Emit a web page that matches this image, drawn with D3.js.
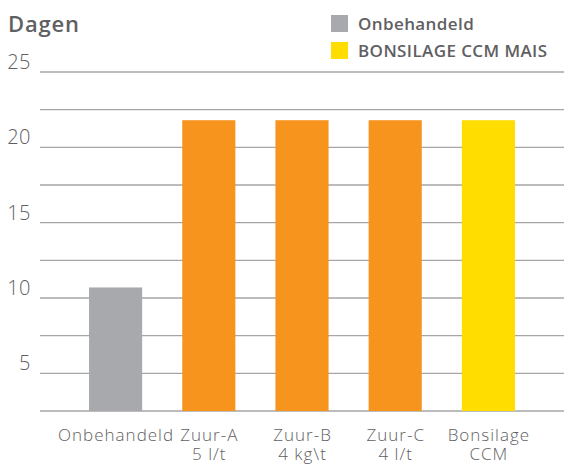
<!DOCTYPE html>
<html>
<head>
<meta charset="utf-8">
<script src="https://cdn.jsdelivr.net/npm/d3@7"></script>
<style>
  body { margin: 0; background: #fff; }
  text { font-family: "Open Sans", "Noto Sans", sans-serif; fill: #5f6062; }
</style>
</head>
<body>
<div id="chart"></div>
<script>
var categories = ["Onbehandeld", "Zuur-A|5 l/t", "Zuur-B|4 kg\\t", "Zuur-C|4 l/t", "Bonsilage|CCM"];
var values = [10.7, 21.8, 21.8, 21.8, 21.8];
var barColors = ["#a7a9ac", "#f7941d", "#f7941d", "#f7941d", "#ffdd00"];
var gridTicks = [2.5, 5, 7.5, 10, 12.5, 15, 17.5, 20, 22.5, 25];
var labelTicks = [5, 10, 15, 20, 25];
var legendItems = ["Onbehandeld", "BONSILAGE CCM MAIS"];
var legendColors = ["#a7a9ac", "#ffdd00"];

var width = 564, height = 464;

var svg = d3.select("#chart")
    .append("svg")
    .attr("width", width)
    .attr("height", height);

var y = d3.scaleLinear()
    .domain([2.5, 25])
    .range([411, 72]);

var x = d3.scaleBand()
    .domain(categories)
    .range([69, 535])
    .paddingInner(0.43)
    .paddingOuter(0.215);

// gridlines
svg.selectAll("line.grid")
    .data(gridTicks)
    .enter()
    .append("line")
    .attr("class", "grid")
    .attr("x1", 40)
    .attr("x2", width)
    .attr("y1", function(d){return y(d)})
    .attr("y2", function(d){return y(d)})
    .attr("stroke", "#a6a6a6")
    .attr("stroke-width", 1.3)

svg.selectAll("text.ylab")
    .data(labelTicks)
    .enter()
    .append("text")
    .attr("class", "ylab")
    .attr("x", 31)
    .attr("y", function(d){return y(d) - 3})
    .attr("text-anchor", "end")
    .style("font-size", "20px")
    .style("font-weight", 300)
    .style("letter-spacing", "0.5px")
    .text(function(d){return d})

// bars
svg.selectAll("rect.bar")
    .data(values)
    .enter()
    .append("rect")
    .attr("class", "bar")
    .attr("x", function(d, i){return x(categories[i])})
    .attr("y", function(d){return y(d)})
    .attr("width", x.bandwidth())
    .attr("height", function(d){return y(2.5) - y(d)})
    .attr("fill", function(d, i){return barColors[i]})

// category labels
var cat = svg.selectAll("text.xlab")
    .data(categories)
    .enter()
    .append("text")
    .attr("class", "xlab")
    .attr("text-anchor", "middle")
    .style("font-size", "17px")
    .style("font-weight", 300)
    .style("letter-spacing", "1px")

cat.selectAll("tspan")
    .data(function(d){return d.split("|").map(function(s){return {s: s, c: d}})})
    .enter()
    .append("tspan")
    .attr("x", function(d){return x(d.c) + x.bandwidth() / 2 + 0.5})
    .attr("y", function(d, i){return 441 + i * 19})
    .text(function(d){return d.s})

// title
svg.append("text")
    .attr("x", 8)
    .attr("y", 32)
    .style("font-size", "22px")
    .style("font-weight", 600)
    .style("letter-spacing", "0.8px")
    .text("Dagen")

// legend
var leg = svg.selectAll("g.leg")
    .data(legendItems)
    .enter()
    .append("g")
    .attr("class", "leg")
    .attr("transform", function(d, i){return "translate(331," + (15 + i * 27) + ")"})

leg.append("rect")
    .attr("width", 17)
    .attr("height", 17)
    .attr("fill", function(d, i){return legendColors[i]})

leg.append("text")
    .attr("x", 27)
    .attr("y", 15)
    .style("font-size", "17px")
    .style("font-weight", 600)
    .style("letter-spacing", "0.4px")
    .text(function(d){return d})
</script>
</body>
</html>
